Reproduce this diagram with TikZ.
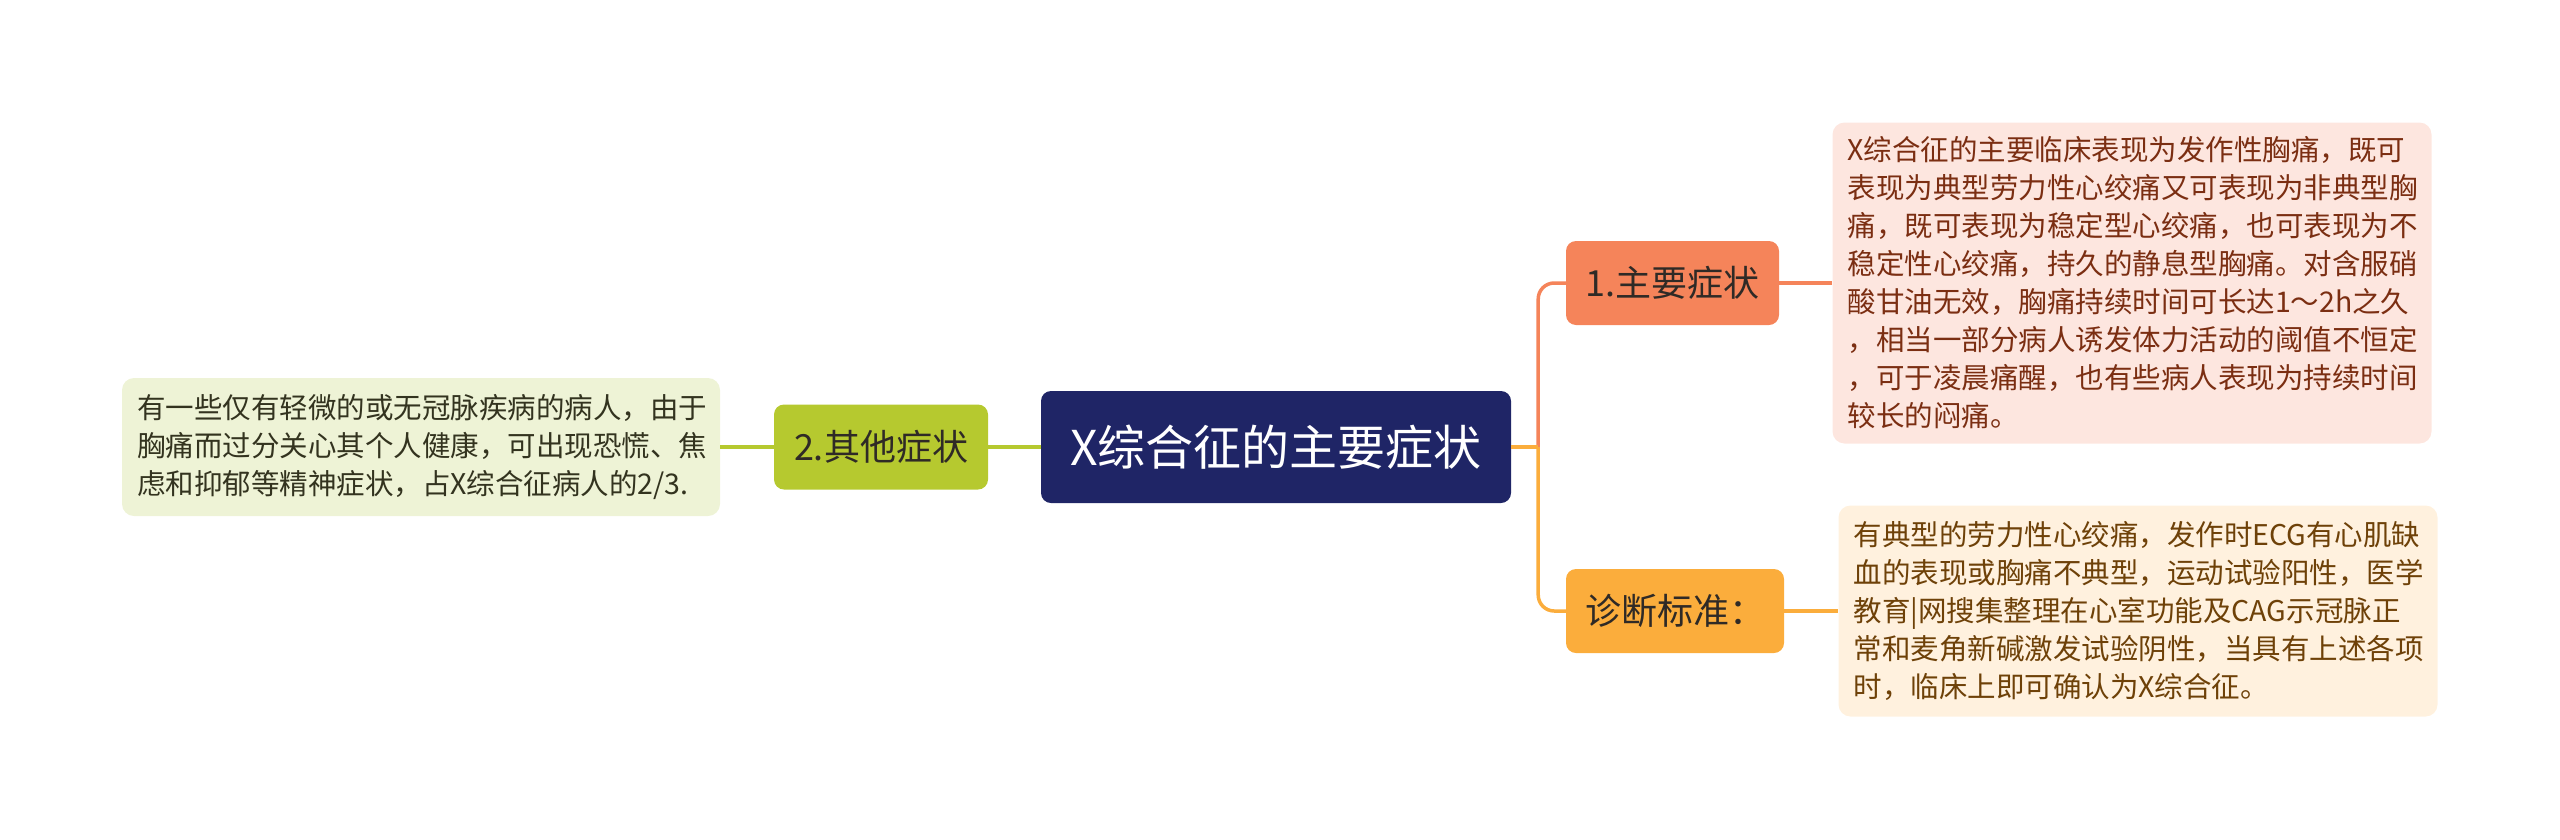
\documentclass[tikz,border=0pt]{standalone}
\usepackage{fontspec}
\newfontfamily\cjk{Noto Sans CJK SC}
\usetikzlibrary{positioning}
\definecolor{rootblue}{HTML}{1F2566}
\definecolor{coral}{HTML}{F5845A}
\definecolor{coralbg}{HTML}{FDE6DF}
\definecolor{coraltext}{HTML}{7B2E12}
\definecolor{amber}{HTML}{FBAD3C}
\definecolor{amberbg}{HTML}{FFF1DE}
\definecolor{ambertext}{HTML}{6E4108}
\definecolor{lime}{HTML}{B6C92F}
\definecolor{limebg}{HTML}{EEF3D6}
\definecolor{limetext}{HTML}{33331F}
\definecolor{nodetext}{HTML}{2F2A26}
\tikzset{
  root/.style={rectangle, rounded corners=10pt, fill=rootblue, text=white,
    minimum width=470pt, minimum height=112pt, inner sep=0pt,
    font=\cjk\fontsize{48pt}{56pt}\selectfont},
  topic/.style={rectangle, rounded corners=10pt, text=nodetext,
    minimum height=84pt, inner sep=0pt,
    font=\cjk\fontsize{36pt}{42pt}\selectfont},
  detail/.style={rectangle, rounded corners=12pt, align=left,
    text width=569pt, inner xsep=15pt, inner ysep=0pt,
    font=\cjk\fontsize{28.5pt}{38pt}\selectfont},
  branch/.style={line width=3.5pt, rounded corners=16pt}
}
\begin{document}
\begin{tikzpicture}[node distance=2cm,on grid]
  \useasboundingbox (0pt,0pt) rectangle (2560pt,-839pt);
  \node[root] (root) at (1276pt,-447pt) {X综合征的主要症状};
  \node[topic, fill=coral, minimum width=213pt] (main) [above right=164pt and 396.5pt of root] {1.主要症状};
  \node[topic, fill=amber, minimum width=218pt] (diag) [below right=164pt and 399pt of root] {诊断标准：};
  \node[topic, fill=lime, minimum width=214pt, minimum height=85pt] (other) [left=395pt of root] {2.其他症状};
  \node[detail, fill=coralbg, text=coraltext, minimum height=321pt] (mainnote) [right=459.5pt of main]
    {X综合征的主要临床表现为发作性胸痛，既可\\
     表现为典型劳力性心绞痛又可表现为非典型胸\\
     痛，既可表现为稳定型心绞痛，也可表现为不\\
     稳定性心绞痛，持久的静息型胸痛。对含服硝\\
     酸甘油无效，胸痛持续时间可长达1～2h之久\\
     ，相当一部分病人诱发体力活动的阈值不恒定\\
     ，可于凌晨痛醒，也有些病人表现为持续时间\\
     较长的闷痛。};
  \node[detail, fill=amberbg, text=ambertext, minimum height=211pt] (diagnote) [right=463pt of diag]
    {有典型的劳力性心绞痛，发作时ECG有心肌缺\\
     血的表现或胸痛不典型，运动试验阳性，医学\\
     教育|网搜集整理在心室功能及CAG示冠脉正\\
     常和麦角新碱激发试验阴性，当具有上述各项\\
     时，临床上即可确认为X综合征。};
  \node[detail, fill=limebg, text=limetext, minimum height=138pt, text width=568pt] (othernote) [left=460pt of other]
    {有一些仅有轻微的或无冠脉疾病的病人，由于\\
     胸痛而过分关心其个人健康，可出现恐慌、焦\\
     虑和抑郁等精神症状，占X综合征病人的2/3.};
  \coordinate (fork) at ([xshift=27pt]root.east);
  % right side branches
  \draw[branch, coral] (fork) |- (main.west);
  \draw[branch, amber] (fork) |- (diag.west);
  \draw[branch, amber] (root.east) -- (fork);
  \draw[branch, coral] (main.east) -- (mainnote.west);
  \draw[branch, amber] (diag.east) -- (diagnote.west);
  % left side
  \draw[branch, lime] (root.west) -- (other.east);
  \draw[branch, lime] (other.west) -- (othernote.east);
\end{tikzpicture}
\end{document}
